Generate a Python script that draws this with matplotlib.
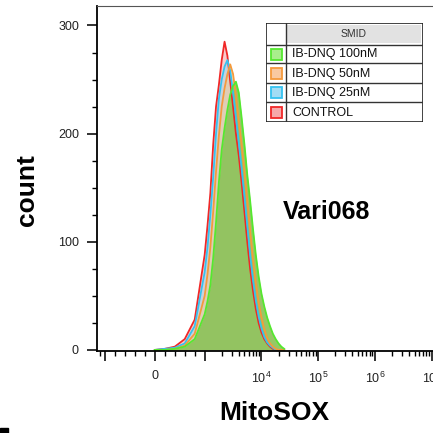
import numpy as np
import matplotlib.pyplot as plt
from matplotlib.patches import Rectangle
from matplotlib.ticker import FixedLocator

plt.rcParams['font.family'] = ['Liberation Sans', 'DejaVu Sans']
plt.rcParams['mathtext.default'] = 'regular'

''' MitoSOX intensity grid (shared by all samples) '''
mitosox = [0, 200, 400, 600, 800,
           1000, 1122, 1259, 1413, 1585, 1778, 1995, 2239, 2512, 2818,
           3162, 3548, 3981, 4467, 5012, 5623, 6310, 7079, 7943, 8913,
           10000, 11220, 12589, 14125, 15849, 17783, 19953, 22387, 25119]

''' counts per sample, read off the histogram '''
control = [0, 1, 3, 10, 28,
           88, 115, 145, 190, 225, 245, 268, 285, 272, 248,
           225, 200, 180, 155, 128, 100, 75, 55, 38, 25,
           16, 10, 6, 3, 1, 0, 0, 0, 0]
dnq_25 = [0, 1, 2, 6, 22,
          72, 95, 125, 160, 200, 232, 250, 262, 268, 258,
          238, 215, 192, 168, 142, 115, 88, 65, 46, 31,
          20, 12, 7, 4, 2, 0, 0, 0, 0]
dnq_50 = [0, 0, 1, 4, 15,
          50, 70, 95, 128, 165, 198, 225, 242, 255, 264,
          255, 235, 212, 190, 165, 138, 110, 84, 62, 44,
          30, 19, 11, 6, 3, 1, 0, 0, 0]
dnq_100 = [0, 0, 1, 3, 10,
           33, 45, 60, 85, 118, 155, 185, 205, 222, 236,
           244, 248, 238, 215, 190, 162, 138, 112, 88, 68,
           52, 40, 30, 22, 15, 10, 6, 3, 1]

labels = ['IB-DNQ 100nM', 'IB-DNQ 50nM', 'IB-DNQ 25nM', 'CONTROL']
line_cols = ['#55e830', '#f59a3c', '#35c2f0', '#f02828']
face_cols = ['#a9ee8c', '#f9c9a0', '#a2dcf4', '#f6a9aa']

fig = plt.figure(figsize=(4.33, 4.33), dpi=100)
W = 433.0
ax = fig.add_axes([97 / W, 1 - 351 / W, 352 / W, 345 / W])
ax.set_xscale('symlog', linthresh=1000, linscale=0.79)

# draw control first, 100nM last (on top)
series = [(control, '#f4a3a3', 0.55, line_cols[3]),
          (dnq_25, '#9fd8ee', 0.55, line_cols[2]),
          (dnq_50, '#f5c994', 0.55, line_cols[1]),
          (dnq_100, '#8dc35a', 0.92, line_cols[0])]
for ys, fc, a, lc in series:
    ax.fill_between(mitosox, ys, 0, color=fc, alpha=a, lw=0)
    ax.plot(mitosox, ys, color=lc, lw=1.3)

ax.set_xlim(-1380, 2e7)
ax.set_ylim(-1, 318)

ax.set_yticks([0, 100, 200, 300])
ax.set_yticks(np.arange(0, 318, 25), minor=True)
ax.set_xticks([-1000, 0, 1000, 1e4, 1e5, 1e6, 1e7])
ax.set_xticklabels(['', '0', '', '$10^4$', '$10^5$', '$10^6$', '$10^7$'])
minor = list(np.arange(-1200, 1000, 200))
for d in [1e3, 1e4, 1e5, 1e6]:
    minor += [d * k for k in range(2, 10)]
ax.xaxis.set_minor_locator(FixedLocator(minor))

ax.tick_params(axis='both', which='major', direction='out', length=7, width=1.3,
               labelsize=9, colors='#222222')
ax.tick_params(axis='both', which='minor', direction='out', length=3.5, width=1.0)
ax.tick_params(axis='x', which='major', pad=7)
ax.tick_params(axis='y', which='major', pad=6)
for s in ['left', 'bottom']:
    ax.spines[s].set_linewidth(1.3)
ax.spines['top'].set_color('#555555')
ax.spines['right'].set_visible(False)

fig.text(27 / W, 1 - 190 / W, 'count', rotation=90, fontsize=19, fontweight='bold',
         ha='center', va='center')
fig.text(274 / W, 1 - 413 / W, 'MitoSOX', fontsize=19, fontweight='bold',
         ha='center', va='center')
fig.text(327 / W, 1 - 212 / W, 'Vari068', fontsize=18, fontweight='bold',
         ha='center', va='center')

''' legend table '''
lg = fig.add_axes([266 / W, 1 - 122 / W, 157 / W, 99 / W])
lg.set_xlim(0, 157)
lg.set_ylim(99, 0)
lg.axis('off')
lg.add_patch(Rectangle((21, 2), 134, 18, color='#e2e2e2', lw=0))
lg.text(88, 11, 'SMID', fontsize=7.5, ha='center', va='center', color='#333333')
rows = [22, 40, 60, 79, 99]
for y in rows[:-1]:
    lg.plot([0, 157], [y, y], color='#333333', lw=1)
lg.plot([20, 20], [0, 99], color='#333333', lw=1)
lg.add_patch(Rectangle((0, 0), 157, 99, fill=False, ec='#222222', lw=1.2))
for i, lab in enumerate(labels):
    yc = (rows[i] + rows[i + 1]) / 2
    lg.add_patch(Rectangle((4.5, yc - 5.5), 11, 11, fc=face_cols[i], ec=line_cols[i], lw=1.3))
    lg.text(26, yc + 0.5, lab, fontsize=9, ha='left', va='center', color='#111111')

fig.add_artist(Rectangle((0, 0), 8 / W, 5 / W, transform=fig.transFigure, color='black'))

fig.savefig('out.png', dpi=100)
